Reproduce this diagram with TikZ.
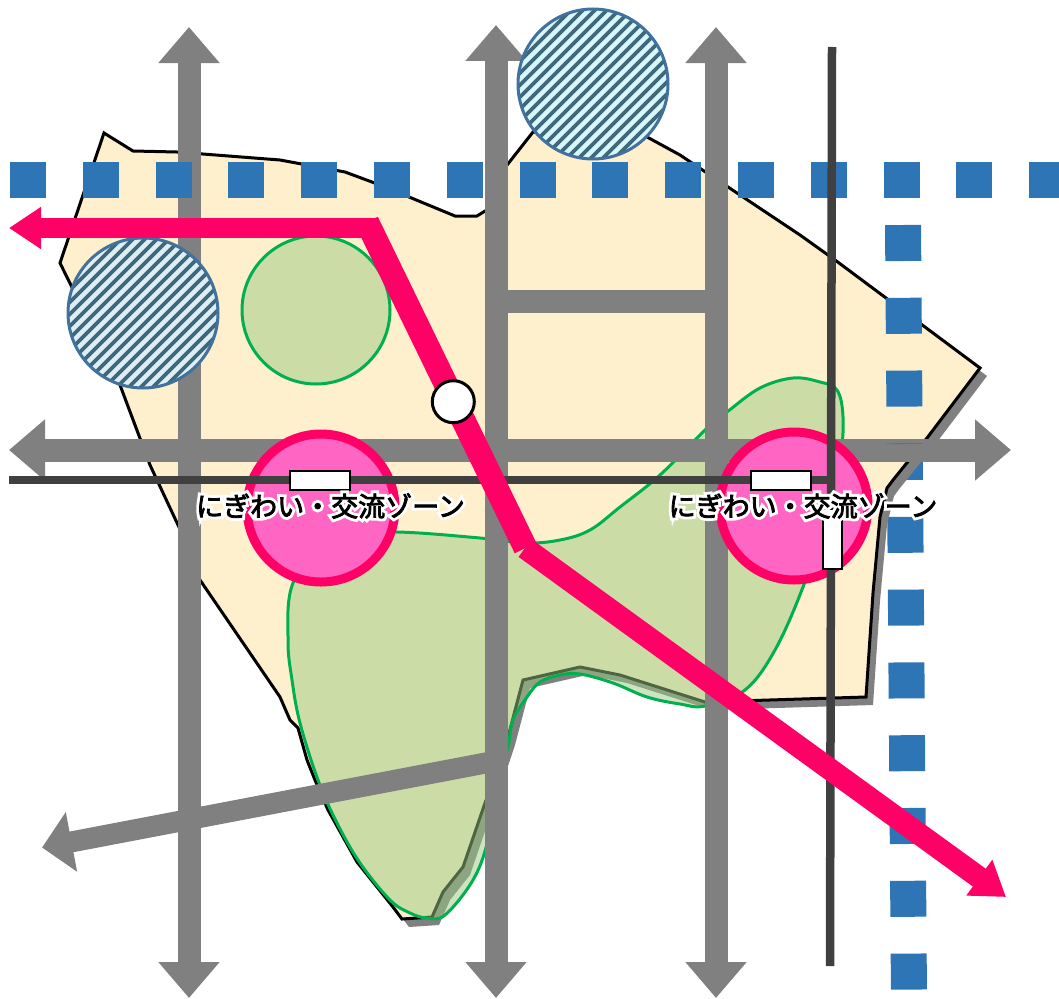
\documentclass[tikz,border=0pt]{standalone}
\usepackage{fontspec}
\usepackage{tikz}
\usetikzlibrary{arrows.meta}
\newfontfamily\zonefont[FakeBold=3]{Noto Sans CJK JP}
\newfontfamily\halofont[FakeBold=24]{Noto Sans CJK JP}
\definecolor{roadgray}{RGB}{128,128,128}
\definecolor{darkline}{RGB}{64,64,64}
\definecolor{railblue}{RGB}{46,117,182}
\definecolor{sitecream}{RGB}{255,240,205}
\definecolor{parkfill}{RGB}{155,202,131}
\definecolor{parkline}{RGB}{0,176,80}
\definecolor{zonepink}{RGB}{255,102,196}
\definecolor{mainpink}{RGB}{255,0,102}
\definecolor{hatchline}{RGB}{65,113,156}
\definecolor{hatchdark}{RGB}{62,104,124}
\definecolor{hatchbgA}{RGB}{222,238,245}
\definecolor{hatchbgB}{RGB}{215,247,250}
\newcommand{\sitepath}{(104,133)--(133,151)--(177,152)--(280,160)--(345,172)--(380,185)--(455,216)--(477,216)--(490,208)--(500,174)--(533,132)--(647,137)--(680,155)--(800,235)--(835,260)--(980,368)--(927,438)--(893,480)--(887,488)--(880,517)--(873,593)--(866,697)--(705,702)--(620,675)--(580,667)--(523,680)--(508,737)--(497,770)--(485,803)--(463,867)--(443,892)--(432,917)--(402,919)--(393,907)--(357,862)--(328,810)--(315,780)--(307,760)--(298,728)--(290,720)--(280,697)--(200,580)--(185,540)--(150,465)--(120,385)--(60,263)--cycle}
\newcommand{\zonelabel}{\rlap{\halofont\textcolor{white}{にぎわい・交流ゾーン}}{\zonefont にぎわい・交流ゾーン}}
\tikzset{
	road/.style={draw=roadgray,line width=23pt},
	roadtips/.style={{Triangle[length=36pt,width=59pt]}-{Triangle[length=36pt,width=59pt]},road},
	thinline/.style={draw=darkline,line width=8.5pt},
	rail/.style={draw=railblue,line width=36pt,dash pattern=on 36pt off 36.8pt},
	park/.style={draw=parkline,line width=3pt,fill=parkfill,fill opacity=.5},
	zone/.style={circle,draw=mainpink,fill=zonepink,line width=9pt,minimum size=148pt,inner sep=0pt,outer sep=0pt},
	bridge/.style={draw=black,fill=white,line width=2pt,minimum width=60pt,minimum height=19pt,inner sep=0pt},
	bridgeup/.style={draw=black,fill=white,line width=2pt,minimum width=19pt,minimum height=60pt,inner sep=0pt},
	hatchring/.style={circle,draw=hatchline,line width=3pt,minimum size=150pt,inner sep=0pt,outer sep=0pt},
	mainway/.style={draw=mainpink,fill=mainpink},
	zonetext/.style={font=\fontsize{27pt}{27pt}\selectfont,inner sep=0pt},
}
\begin{document}
\begin{tikzpicture}[x=1pt,y=-1pt]
	\useasboundingbox (0,0) rectangle (1059,998);
	\coordinate (railtopW) at (10,180);
	\coordinate (railtopE) at (1059,180);
	\coordinate (railsideN) at (903,225);
	\coordinate (railsideM) at (904.7,444);
	\coordinate (railsideS) at (909,998);
	\draw[rail] (railsideM)--(railsideS);
	\fill[roadgray,shift={(7,8)}] \sitepath;
	\draw[black,line width=3pt,fill=sitecream,line join=miter] \sitepath;
	\draw[park] plot[smooth cycle,tension=.6] coordinates {(820,382)(793,378)(760,388)(727,412)(705,430)(660,475)(620,507)(590,530)(560,540)(525,543)(480,538)(397,532)(330,535)(293,583)(288,640)(292,680)(300,723)(318,780)(337,823)(360,863)(390,900)(410,913)(427,918)(445,915)(473,880)(488,840)(500,775)(508,747)(513,720)(527,697)(540,682)(560,675)(580,674)(613,683)(647,697)(680,704)(705,706)(745,690)(775,650)(803,587)(825,520)(840,460)(843,417)(837,390)};
	\draw[park] (316,310) circle (74);
	\coordinate (roadAn) at (189,27);
	\coordinate (roadAs) at (189,998);
	\coordinate (roadBn) at (496,25);
	\coordinate (roadBs) at (496,998);
	\coordinate (roadCn) at (716,27);
	\coordinate (roadCs) at (716,998);
	\coordinate (roadEw) at (9,450);
	\coordinate (roadEe) at (1011,450);
	\coordinate (roadLw) at (496,301);
	\coordinate (roadLe) at (716,301);
	\coordinate (roadDe) at (496,761);
	\coordinate (roadDw) at (42,847.5);
	\draw[roadtips] (roadAn)--(roadAs);
	\draw[roadtips] (roadBn)--(roadBs);
	\draw[roadtips] (roadCn)--(roadCs);
	\draw[roadtips] (roadEw)--(roadEe);
	\draw[road] (roadLw)--(roadLe);
	\draw[road,line width=21pt,-{Triangle[length=30pt,width=59pt]}] (roadDe)--(roadDw);
	\draw[rail] (railtopW)--(railtopE);
	\draw[rail] (railsideN)--(railsideM);
	\node[zone] (zoneW) at (321,508) {};
	\node[zone] (zoneE) at (794,506) {};
	\coordinate (thinW) at (9,480);
	\coordinate (thinE) at (835,480);
	\coordinate (thinN) at (832,47);
	\coordinate (thinS) at (830,966);
	\draw[thinline] (thinW)--(thinE);
	\draw[thinline] (thinN)--(thinS);
	\node[bridge] (bridgeW) at (320,480) {};
	\node[bridge] (bridgeE) at (781,480) {};
	\node[bridgeup] (bridgeS) at (832,539) {};
	\foreach \cx/\cy/\bg/\name in {143/313/hatchbgA/parkW,593/84/hatchbgB/parkN}{
		\begin{scope}
			\clip (\cx,\cy) circle (75);
			\fill[\bg] (\cx,\cy) circle (75);
			\foreach \d in {-156,-144,...,156}
				\draw[hatchdark,line width=3.6pt] (\cx-90+\d,\cy+90)--(\cx+90+\d,\cy-90);
		\end{scope}
		\node[hatchring] (\name) at (\cx,\cy) {};
	}
	\coordinate (wayW) at (9,228);
	\coordinate (wayA) at (376,228);
	\coordinate (wayB) at (367,222);
	\coordinate (wayC) at (525.5,548);
	\coordinate (wayD) at (525,548);
	\coordinate (wayE) at (1006,897);
	\draw[mainway,line width=20pt,-{Triangle[length=32pt,width=40pt]}] (wayA)--(wayW);
	\draw[mainway,line width=24pt] (wayB)--(wayC);
	\draw[mainway,line width=22pt,-{Triangle[length=33pt,width=42pt]}] (wayD)--(wayE);
	\node[circle,draw=black,fill=white,line width=3pt,minimum size=42pt,inner sep=0pt] (station) at (453.3,401.7) {};
	\node[zonetext] (labelW) at (330.5,506) {\zonelabel};
	\node[zonetext] (labelE) at (803,506) {\zonelabel};
\end{tikzpicture}
\end{document}
